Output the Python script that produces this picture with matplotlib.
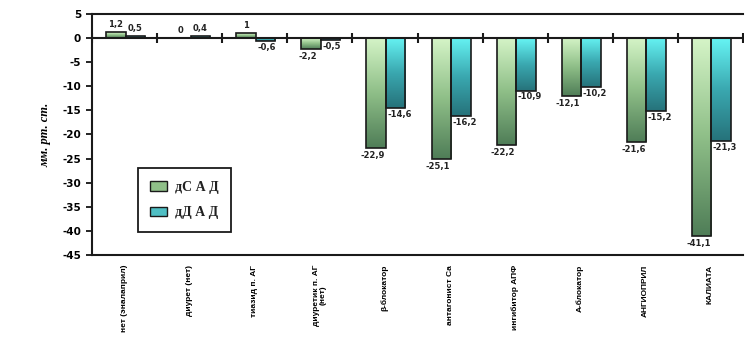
import matplotlib
matplotlib.use("Agg")
import matplotlib.pyplot as plt
import numpy as np
from matplotlib.colors import LinearSegmentedColormap
from matplotlib.patches import Patch

categories = ["нет (эналаприл)", "диурет (нет)", "тиазид п. АГ", "диуретик п. АГ\n(нет)",
              "β-блокатор", "антагонист Ca", "ингибитор АПФ", "А-блокатор",
              "АНГИОПРИЛ", "КАЛИАТА"]
sad = [1.2, 0, 1, -2.2, -22.9, -25.1, -22.2, -12.1, -21.6, -41.1]
dad = [0.5, 0.4, -0.6, -0.5, -14.6, -16.2, -10.9, -10.2, -15.2, -21.3]
yticks = list(range(5, -50, -5))
series_names = ["дС А Д", "дД А Д"]

green_cmap = LinearSegmentedColormap.from_list("g", ["#d6f5c8", "#8fbf88", "#4f7d57"])
cyan_cmap = LinearSegmentedColormap.from_list("c", ["#66f4f4", "#3aa8b0", "#26727a"])


def fmt(v):
    s = ("%g" % v).replace(".", ",")
    return s


fig = plt.figure(figsize=(7.55, 3.47), dpi=100)
ax = fig.add_axes([0.122, 0.265, 0.862, 0.695])

x = np.arange(len(categories))
w = 0.3
b1 = ax.bar(x - w / 2 + 0.015, sad, w, facecolor="none", edgecolor="#1a1a1a", linewidth=1.2, zorder=3)
b2 = ax.bar(x + w / 2 + 0.015, dad, w, facecolor="none", edgecolor="#1a1a1a", linewidth=1.2, zorder=3)

grad = np.linspace(0, 1, 256).reshape(-1, 1)
for bars, cmap in ((b1, green_cmap), (b2, cyan_cmap)):
    for bar in bars:
        bx, by = bar.get_x(), bar.get_y()
        bw, bh = bar.get_width(), bar.get_height()
        if bh == 0:
            continue
        top, bot = max(by, by + bh), min(by, by + bh)
        im = ax.imshow(grad, cmap=cmap, extent=[bx, bx + bw, bot, top], origin="upper",
                       aspect="auto", zorder=2)
        im.set_clip_path(bar)

# value labels
lab_kw = dict(fontsize=6, fontweight="bold", color="#222222", family="DejaVu Sans", zorder=5)
for bar, v in zip(b1, sad):
    cx = bar.get_x() + bar.get_width() / 2
    if v >= 0:
        ax.text(cx, v + 0.6, fmt(v), ha="center", va="bottom", **lab_kw)
    else:
        ax.text(cx - 0.05, v - 0.6, fmt(v), ha="center", va="top", **lab_kw)
for bar, v in zip(b2, dad):
    cx = bar.get_x() + bar.get_width() / 2
    if v >= 0:
        ax.text(cx, v + 0.6, fmt(v), ha="center", va="bottom", **lab_kw)
    else:
        ax.text(bar.get_x() + 0.02, v - 0.4, fmt(v), ha="left", va="top", **lab_kw)

ax.set_xlim(-0.5, len(categories) - 0.5)
ax.set_ylim(-45, 5)
ax.set_yticks(yticks)
ax.set_yticklabels([str(t) for t in yticks], fontsize=7.5, fontweight="bold")
ax.tick_params(axis="y", length=4, width=1.2, direction="out", pad=4)

# zero line with category separator ticks
ax.axhline(0, color="#1a1a1a", linewidth=1.5, zorder=4)
ax.plot(np.arange(len(categories) + 1) - 0.5, np.zeros(len(categories) + 1), ls="none",
        marker="|", ms=7, mew=1.5, color="#1a1a1a", zorder=4)

ax.set_xticks(x)
ax.set_xticklabels(categories, rotation=90, fontsize=6, fontweight="bold",
                   family="Liberation Sans", va="top", ha="center", linespacing=1.0)
ax.tick_params(axis="x", length=0, pad=7)

for s in ("left", "top", "bottom"):
    ax.spines[s].set_linewidth(1.5)
    ax.spines[s].set_color("#1a1a1a")
ax.spines["right"].set_visible(False)

ax.set_ylabel("мм. рт. ст.", fontsize=9, fontstyle="italic", fontweight="bold",
              family="Liberation Serif", labelpad=8)

handles = [Patch(facecolor="#8fbf88", edgecolor="#1a1a1a"),
           Patch(facecolor="#4fbfc4", edgecolor="#1a1a1a")]
leg = ax.legend(handles, series_names, loc="upper left", bbox_to_anchor=(0.07, 0.36),
                prop={"family": "Liberation Serif", "weight": "bold", "size": 10},
                fancybox=False, edgecolor="#1a1a1a", framealpha=1,
                borderpad=0.9, labelspacing=0.9, handlelength=1.2, handleheight=0.7,
                borderaxespad=0, handletextpad=0.6)
leg.get_frame().set_linewidth(1.3)
for t in leg.get_texts():
    t.set_color("#222222")

fig.savefig("out.png", dpi=100)
